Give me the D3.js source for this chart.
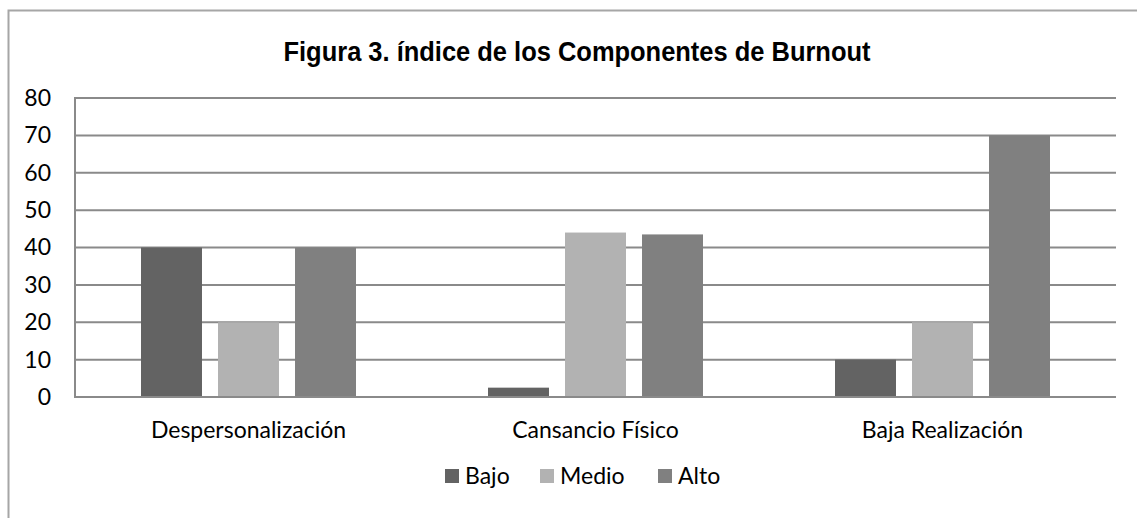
<!DOCTYPE html>
<html><head><meta charset="utf-8">
<script src="https://cdn.jsdelivr.net/npm/d3@7"></script>
<style>body{margin:0;background:#fff}svg{display:block}</style>
</head><body>
<svg id="c" width="1137" height="518"></svg>
<script>
const categories = ["Despersonalización", "Cansancio Físico", "Baja Realización"];
const seriesNames = ["Bajo", "Medio", "Alto"];
const bajo = [40, 2.5, 10];
const medio = [20, 44, 20];
const alto = [40, 43.5, 70];
const yTicks = [0, 10, 20, 30, 40, 50, 60, 70, 80];
const colors = ["#636363", "#b2b2b2", "#808080"];
const title = "Figura 3. índice de los Componentes de Burnout";

const values = [bajo, medio, alto];
const svg = d3.select("#c");
const W = 1137, H = 518;
const m = {left: 75, right: 1116, top: 98, bottom: 397};
const FONT = "Lato, 'Noto Sans', sans-serif";

// outer frame
svg.append("path").attr("d", `M8.5,${H} V10.5 H${W}`).attr("fill","none").attr("stroke","#a6a6a6").attr("stroke-width",2);

const x0 = d3.scaleBand().domain(categories).range([m.left, m.right]).padding(0);
const x1 = d3.scaleBand().domain(seriesNames).range([66, x0.bandwidth() - 66]).paddingInner(0.208).paddingOuter(0);
const y = d3.scaleLinear().domain([0, 80]).range([m.bottom, m.top]);

// gridlines
svg.append("g").selectAll("line").data(yTicks.filter(t => t > 0)).join("line")
  .attr("x1", m.left).attr("x2", m.right).attr("y1", d => y(d)).attr("y2", d => y(d))
  .attr("stroke", "#8a8a8a").attr("stroke-width", 2);

// bars
const g = svg.append("g");
categories.forEach((c, ci) => {
  seriesNames.forEach((s, si) => {
    const v = values[si][ci];
    g.append("rect")
      .attr("x", x0(c) + x1(s)).attr("width", x1.bandwidth())
      .attr("y", y(v)).attr("height", y(0) - y(v))
      .attr("fill", colors[si]);
  });
});

// axis lines
svg.append("line").attr("x1", m.left).attr("x2", m.left).attr("y1", m.top - 1).attr("y2", m.bottom + 1).attr("stroke", "#8a8a8a").attr("stroke-width", 2);
svg.append("line").attr("x1", m.left).attr("x2", m.right).attr("y1", m.bottom).attr("y2", m.bottom).attr("stroke", "#8a8a8a").attr("stroke-width", 2);

// y tick labels
const yAxis = d3.axisLeft(y).tickValues(yTicks).tickSize(0).tickPadding(0);
const ya = svg.append("g").attr("transform", `translate(51,0)`).call(yAxis);
ya.select(".domain").remove();
ya.selectAll("text").attr("font-family", FONT).attr("font-size", 23).attr("fill", "#000");

// category labels
const xAxis = d3.axisBottom(x0).tickSize(0).tickPadding(0);
const xa = svg.append("g").attr("transform", `translate(0,422)`).call(xAxis);
xa.select(".domain").remove();
xa.selectAll("text").attr("font-family", FONT).attr("font-size", 23).attr("fill", "#000");

// title
svg.append("text").attr("x", 577).attr("y", 61).attr("text-anchor", "middle")
  .attr("font-family", "'Liberation Sans Narrow', 'Arial Narrow', 'Liberation Sans', sans-serif").attr("font-weight", "bold")
  .attr("font-size", 27).attr("fill", "#000")
  .attr("textLength", 587).attr("lengthAdjust", "spacingAndGlyphs").text(title);

// legend
const legX = [445, 540, 658];
const leg = svg.append("g");
seriesNames.forEach((s, i) => {
  leg.append("rect").attr("x", legX[i]).attr("y", 469).attr("width", 14).attr("height", 14).attr("fill", colors[i]);
  leg.append("text").attr("x", legX[i] + 20).attr("y", 484)
    .attr("font-family", FONT).attr("font-size", 23).attr("fill", "#000").text(s);
});
</script>
</body></html>
